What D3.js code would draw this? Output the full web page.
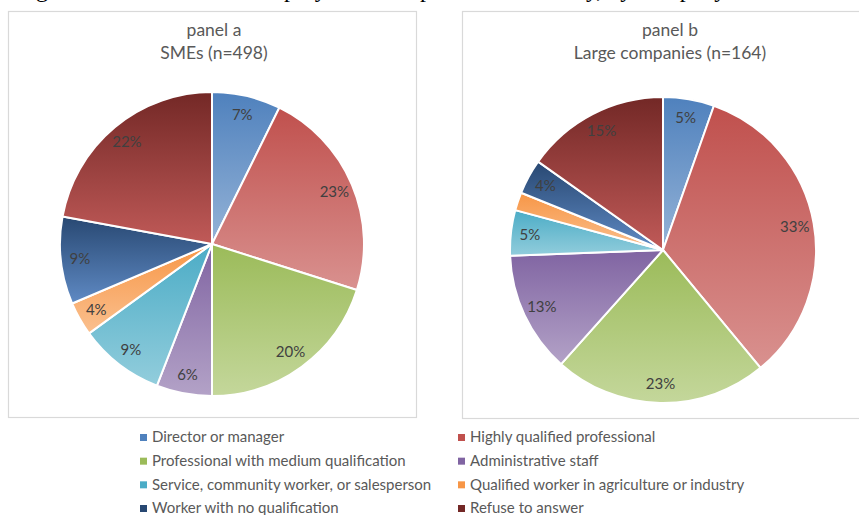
<!DOCTYPE html>
<html><head><meta charset="utf-8">
<script src="https://cdn.jsdelivr.net/npm/d3@7"></script>
<style>
html,body{margin:0;padding:0;background:#fff;}
svg{display:block;}
</style></head>
<body>
<svg id="chart" width="859" height="515"></svg>
<script>
// ---- data ----
const categories = [
  "Director or manager",
  "Highly qualified professional",
  "Professional with medium qualification",
  "Administrative staff",
  "Service, community worker, or salesperson",
  "Qualified worker in agriculture or industry",
  "Worker with no qualification",
  "Refuse to answer"
];
const panelTitles = [["panel a", "SMEs (n=498)"], ["panel b", "Large companies (n=164)"]];
const smeValues   = [7.3, 22.6, 20.1, 5.9, 9.1, 3.6, 9.3, 22.1];
const smeLabels   = ["7%", "23%", "20%", "6%", "9%", "4%", "9%", "22%"];
const largeValues = [5.4, 33.6, 22.6, 12.8, 4.8, 1.9, 3.7, 15.2];
const largeLabels = ["5%", "33%", "23%", "13%", "5%", "", "4%", "15%"];
const topColors    = ["#4F81BD", "#C0504D", "#9BBB59", "#8064A2", "#4BACC6", "#F79646", "#284872", "#732826"];
const bottomColors = ["#95B3D7", "#D9918F", "#C4D79B", "#B3A2C7", "#92CDDC", "#FAC08F", "#5F8AC4", "#C05A58"];
const figureTitle = "Figure 4. Position of the employee who replied to the survey, by company size";

// ---- drawing ----
const svg = d3.select("#chart");
svg.append("rect").attr("width", 859).attr("height", 515).attr("fill", "#fff");

const defs = svg.append("defs");
categories.forEach((c, i) => {
  const g = defs.append("linearGradient").attr("id", "grad" + i)
    .attr("x1", 0).attr("y1", 0).attr("x2", 0).attr("y2", 1);
  g.append("stop").attr("offset", "0%").attr("stop-color", topColors[i]);
  g.append("stop").attr("offset", "100%").attr("stop-color", bottomColors[i]);
});

const color = d3.scaleOrdinal().domain(categories).range(topColors);

// figure title, cut off at the top edge as in the reference
svg.append("text").attr("x", 16).attr("y", -3)
  .attr("font-family", "Liberation Serif, serif").attr("font-size", 24)
  .attr("fill", "#000").text(figureTitle);

const panels = [
  {x: 8, y: 11, w: 408, h: 406, cx: 212, cy: 244, r: 152, tx: 214, values: smeValues, labels: smeLabels},
  {x: 462, y: 11, w: 420, h: 407, cx: 663, cy: 250, r: 153, tx: 670, values: largeValues, labels: largeLabels}
];

const pie = d3.pie().sort(null).value(d => d.v);

panels.forEach((p, pi) => {
  const g = svg.append("g");
  g.append("rect").attr("x", p.x + 0.5).attr("y", p.y + 0.5).attr("width", p.w).attr("height", p.h)
    .attr("fill", "#fff").attr("stroke", "#d9d9d9").attr("stroke-width", 1.2);

  g.append("text").attr("x", p.tx).attr("y", p.y + 25).attr("text-anchor", "middle")
    .attr("font-family", "Lato, sans-serif").attr("font-size", 17.5).attr("fill", "#595959")
    .text(panelTitles[pi][0]);
  g.append("text").attr("x", p.tx).attr("y", p.y + 48).attr("text-anchor", "middle")
    .attr("font-family", "Lato, sans-serif").attr("font-size", 17.5).attr("fill", "#595959")
    .text(panelTitles[pi][1]);

  const data = categories.map((c, i) => ({c, i, v: p.values[i], label: p.labels[i]}));
  const arcs = pie(data);
  const arc = d3.arc().innerRadius(0).outerRadius(p.r);
  const labelArc = d3.arc().innerRadius(p.r * 0.875).outerRadius(p.r * 0.875);

  const pg = g.append("g").attr("transform", `translate(${p.cx},${p.cy})`);
  pg.selectAll("path").data(arcs).join("path")
    .attr("d", arc)
    .attr("fill", d => `url(#grad${d.data.i})`)
    .attr("stroke", "#fff").attr("stroke-width", 2).attr("stroke-linejoin", "round");

  pg.selectAll("text").data(arcs.filter(d => d.data.label)).join("text")
    .attr("transform", d => `translate(${labelArc.centroid(d)})`)
    .attr("text-anchor", "middle").attr("dy", "0.35em")
    .attr("font-family", "Lato, sans-serif").attr("font-size", 15).attr("fill", "#404040")
    .text(d => d.data.label);
});

// legend
const legendX = d3.scalePoint().domain([0, 1]).range([143, 461]);
const legendY = d3.scalePoint().domain([0, 1, 2, 3]).range([437, 508]);
const lg = svg.append("g");
categories.forEach((c, i) => {
  const col = i % 2, row = Math.floor(i / 2);
  const x = legendX(col), y = legendY(row);
  lg.append("rect").attr("x", x - 3).attr("y", y - 3).attr("width", 7).attr("height", 7)
    .attr("fill", color(c));
  lg.append("text").attr("x", x + 9).attr("y", y).attr("dy", "0.35em")
    .attr("font-family", "Lato, sans-serif").attr("font-size", 15).attr("fill", "#595959")
    .text(c);
});
</script>
</body></html>
